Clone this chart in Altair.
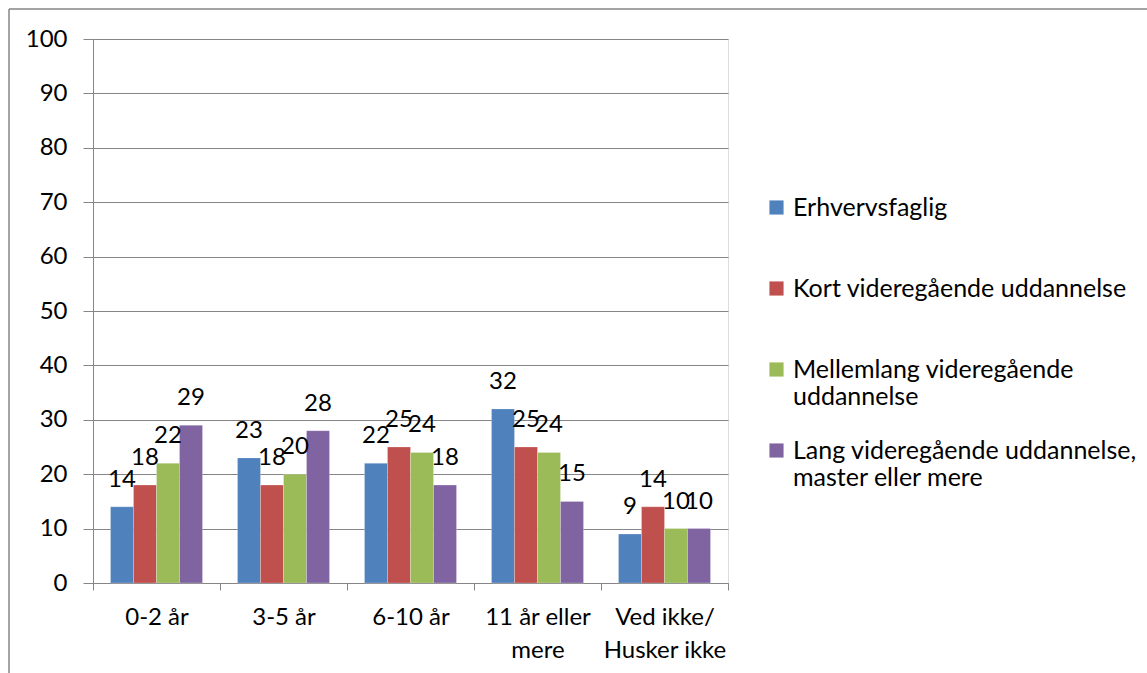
import altair as alt
import pandas as pd

# Years of experience groups ("|" marks a line break in the axis label)
categories = ["0-2 år", "3-5 år", "6-10 år", "11 år eller|mere", "Ved ikke/|Husker ikke"]

# Education groups ("|" marks a line break in the legend label; every entry
# is given two lines so the legend rows come out evenly spaced)
series = [
    "Erhvervsfaglig|",
    "Kort videregående uddannelse|",
    "Mellemlang videregående|uddannelse",
    "Lang videregående uddannelse,|master eller mere",
]
colors = ["#4F81BD", "#C0504D", "#9BBB59", "#8064A2"]

erhvervsfaglig = [14, 23, 22, 32, 9]
kort = [18, 18, 25, 25, 14]
mellemlang = [22, 20, 24, 24, 10]
lang = [29, 28, 18, 15, 10]

rows = []
for s, vals in zip(series, [erhvervsfaglig, kort, mellemlang, lang]):
    for c, v in zip(categories, vals):
        rows.append({"kategori": c, "gruppe": s, "andel": v})
df = pd.DataFrame(rows)

FONT = "Lato"
FS = 24
W, H = 635, 544

x_enc = alt.X(
    "kategori:N",
    sort=categories,
    scale=alt.Scale(paddingInner=0, paddingOuter=0),
    axis=alt.Axis(
        title=None,
        labelAngle=0,
        labelExpr="split(datum.label, '|')",
        labelFont=FONT,
        labelFontSize=FS,
        labelColor="black",
        labelLineHeight=33,
        labelPadding=15,
        labelBaseline="top",
        tickBand="extent",
        tickSize=7,
        tickColor="#868686",
        domainColor="#868686",
        grid=False,
    ),
)
xo_enc = alt.XOffset(
    "gruppe:N", sort=series, scale=alt.Scale(domain=series, paddingInner=0, paddingOuter=0.76)
)
y_enc = alt.Y(
    "andel:Q",
    scale=alt.Scale(domain=[0, 100], nice=False),
    axis=alt.Axis(
        title=None,
        values=list(range(0, 101, 10)),
        labelFont=FONT,
        labelFontSize=FS,
        labelColor="black",
        labelPadding=16,
        tickSize=10,
        tickColor="#868686",
        domainColor="#868686",
        gridColor="#868686",
        gridWidth=1,
    ),
)

bars = alt.Chart(df).mark_bar(stroke="white", strokeWidth=0.4, strokeOpacity=0.6).encode(
    x=x_enc,
    xOffset=xo_enc,
    y=y_enc,
    color=alt.Color(
        "gruppe:N",
        sort=series,
        scale=alt.Scale(domain=series, range=colors),
        legend=alt.Legend(
            title=None,
            orient="none",
            legendX=671,
            legendY=156,
            padding=0,
            symbolType="square",
            symbolSize=200,
            symbolStrokeWidth=0,
            labelFont=FONT,
            labelFontSize=25,
            labelColor="black",
            labelExpr="split(datum.label, '|')",
            labelLimit=400,
            labelOffset=4,
            rowPadding=28,
        ),
    ),
)

labels = alt.Chart(df).mark_text(
    font=FONT, fontSize=FS, color="black", baseline="middle", dy=-27
).encode(
    x=alt.X("kategori:N", sort=categories),
    xOffset=alt.XOffset("gruppe:N", sort=series),
    y=alt.Y("andel:Q"),
    text=alt.Text("andel:Q"),
)

# Outer frame (left and top edges)
frame_left = alt.Chart(pd.DataFrame({"k": [0]})).mark_rule(color="#868686", strokeWidth=1.5).encode(
    x=alt.value(-84), y=alt.value(-30), y2=alt.value(640)
)
frame_top = alt.Chart(pd.DataFrame({"k": [0]})).mark_rule(color="#868686", strokeWidth=1.5).encode(
    x=alt.value(-84), x2=alt.value(1060), y=alt.value(-30)
)

chart = (
    alt.layer(bars, labels, frame_left, frame_top)
    .properties(
        width=W,
        height=H,
        autosize=alt.AutoSizeParams(type="none"),
        padding={"left": 93, "top": 39, "right": 419, "bottom": 90},
    )
    .configure_view(stroke=None)
    .configure(background="white")
)

chart.save("out.html", embed_options={"renderer": "svg", "actions": False})
